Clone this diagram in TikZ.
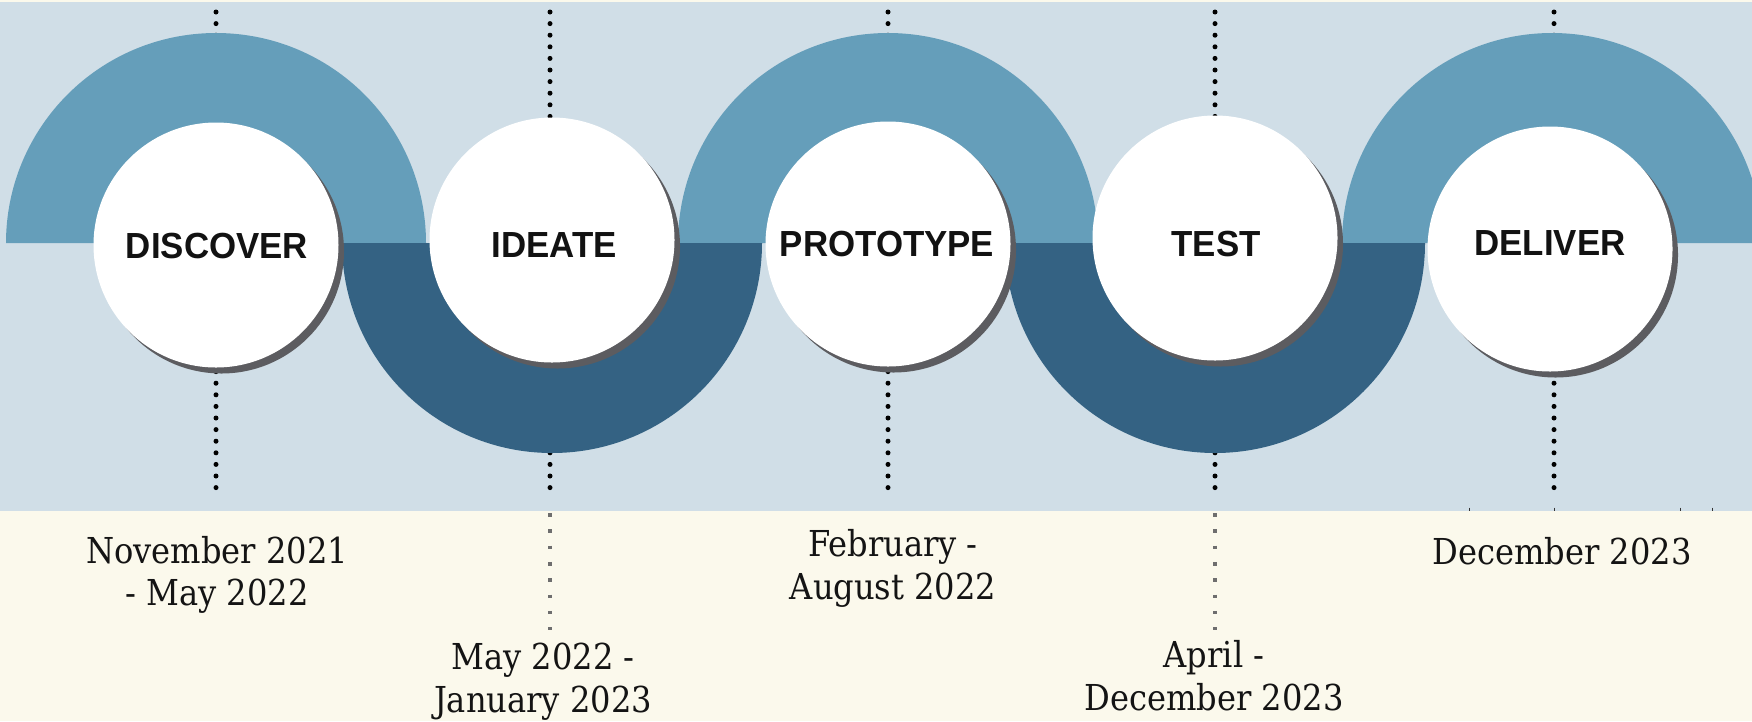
\documentclass[tikz,border=0pt]{standalone}
\usepackage{fontspec}
\newfontfamily\stagefont{Liberation Sans}[FakeStretch=0.96]
\newfontfamily\datefont{DejaVu Serif Condensed}
\definecolor{cream}{HTML}{FBF9EC}
\definecolor{band}{HTML}{D0DEE7}
\definecolor{lightarc}{HTML}{659EBA}
\definecolor{darkarc}{HTML}{346283}
\definecolor{shade}{HTML}{5C5C60}
\definecolor{dotgrey}{HTML}{6E6E6E}
\begin{document}
\begin{tikzpicture}[x=1pt,y=-1pt,
  stagedisc/.style={circle,fill=white,minimum size=245pt,inner sep=0pt},
  shadowdisc/.style={circle,fill=shade,minimum size=245pt,inner sep=0pt},
  stagename/.style={inner sep=0pt,text=black!93,
    font=\stagefont\bfseries\fontsize{36.3}{40}\selectfont},
  datelabel/.style={align=center,inner sep=0pt,text=black!92,
    font=\datefont\fontsize{35.7}{42.5}\selectfont},
  blackdots/.style={line width=5pt,line cap=round,dash pattern=on 0pt off 11.6pt},
  greydots/.style={dotgrey,line width=3.6pt,dash pattern=on 3.6pt off 12.7pt},
  tick/.style={line width=1pt,black!80}]
\useasboundingbox (0,0) rectangle (1752,721);
% backgrounds
\fill[cream] (0,0) rectangle (1752,721);
\fill[band] (0,2) rectangle (1752,511);
% track geometry
\def\R{210}
\def\yc{243}
% vertical dotted guides (behind the track)
\foreach \i/\x in {1/216,2/550,3/888,4/1215,5/1554}{
  \coordinate (t\i) at (\x,12);
  \coordinate (b\i) at (\x,497);
  \draw[blackdots] (t\i) -- (b\i);
}
\coordinate (g2a) at (550,513);
\coordinate (g2b) at (550,630);
\coordinate (g4a) at (1215,513);
\coordinate (g4b) at (1215,630);
\draw[greydots] (g2a) -- (g2b);
\draw[greydots] (g4a) -- (g4b);
% small marks on the band edge
\foreach \x in {1469,1554,1680,1712}{
  \draw[tick] (\x,507.5) -- (\x,511);
}
% half rings of the wave
\foreach \x in {216,888,1552}{
  \fill[lightarc] (\x-\R,\yc) arc[start angle=180,end angle=360,radius=\R] -- cycle;
}
\foreach \x in {552,1215}{
  \fill[darkarc] (\x-\R,\yc) arc[start angle=180,end angle=0,radius=\R] -- cycle;
}
% shadows under the discs
\foreach \x/\y in {216/245,552/240,888/244,1215/238,1550/249}{
  \node[shadowdisc] at (\x+5.5,\y+6) {};
}
% stage discs
\node[stagedisc] (s1) at (216,245) {};
\node[stagedisc] (s2) at (552,240) {};
\node[stagedisc] (s3) at (888,244) {};
\node[stagedisc] (s4) at (1215,238) {};
\node[stagedisc] (s5) at (1550,249) {};
% stage names
\node[stagename] (n1) at (217,246) {DISCOVER};
\node[stagename] (n2) at (554,245.5) {IDEATE};
\node[stagename] (n3) at (887,244) {PROTOTYPE};
\node[stagename] (n4) at (1216,244) {TEST};
\node[stagename] (n5) at (1550,243.5) {DELIVER};
% dates
\node[datelabel] (d1) at (217,574.7) {November 2021\\- May 2022};
\node[datelabel] (d2) at (543,681.7) {May 2022 -\\January 2023};
\node[datelabel] (d3) at (893,568.2) {February -\\August 2022};
\node[datelabel] (d4) at (1214,675.5) {April -\\December 2023};
\node[datelabel,anchor=base] (d5) at (1562,564) {December 2023};
\end{tikzpicture}
\end{document}
